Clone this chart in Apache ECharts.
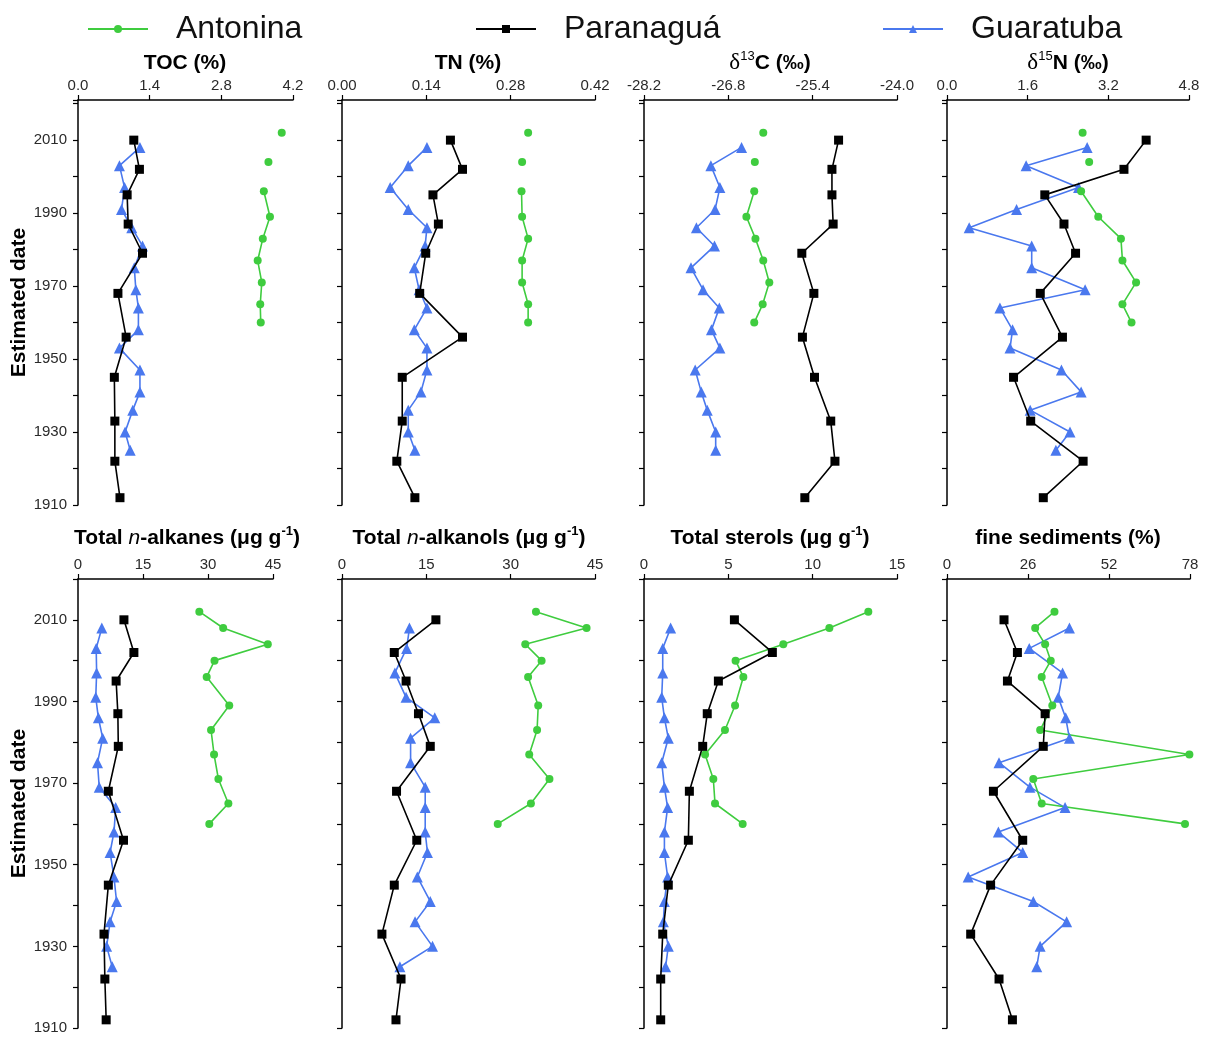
<!DOCTYPE html>
<html>
<head>
<meta charset="utf-8">
<script src="https://cdn.jsdelivr.net/npm/echarts@6/dist/echarts.min.js"></script>
<style>
  html, body { margin: 0; padding: 0; background: #fff; }
  #chart { width: 1211px; height: 1038px; }
</style>
</head>
<body>
<div id="chart"></div>
<script>
// Sampling dates (top of core first) for each estuary
const yearsAntonina  = [2012, 2008, 2004, 2000, 1996, 1989, 1983, 1977, 1971, 1965, 1960];
const yearsParanagua = [2010, 2002, 1995, 1987, 1979, 1968, 1956, 1945, 1933, 1922, 1912];
const yearsGuaratuba = [2008, 2003, 1997, 1991, 1986, 1981, 1975, 1969, 1964, 1958, 1953, 1947, 1941, 1936, 1930, 1925];

// TOC (%)
const tocAntonina  = [3.98, null, 3.72, null, 3.63, 3.75, 3.61, 3.51, 3.59, 3.56, 3.57];
const tocParanagua = [1.09, 1.20, 0.96, 0.98, 1.26, 0.78, 0.94, 0.71, 0.72, 0.72, 0.82];
const tocGuaratuba = [1.21, 0.81, 0.91, 0.85, 1.05, 1.26, 1.10, 1.13, 1.18, 1.18, 0.81, 1.21, 1.21, 1.07, 0.92, 1.02];

// TN (%)
const tnAntonina  = [0.309, null, 0.299, null, 0.298, 0.299, 0.309, 0.299, 0.299, 0.309, 0.309];
const tnParanagua = [0.180, 0.200, 0.151, 0.160, 0.139, 0.129, 0.200, 0.100, 0.100, 0.091, 0.121];
const tnGuaratuba = [0.141, 0.110, 0.080, 0.110, 0.141, 0.138, 0.120, 0.128, 0.141, 0.120, 0.141, 0.141, 0.131, 0.110, 0.110, 0.121];

// delta 13C (per mil)
const d13cAntonina  = [-26.22, null, -26.36, null, -26.37, -26.50, -26.35, -26.22, -26.12, -26.23, -26.37];
const d13cParanagua = [-24.97, -25.08, -25.08, -25.06, -25.58, -25.38, -25.57, -25.37, -25.10, -25.03, -25.53];
const d13cGuaratuba = [-26.58, -27.09, -26.94, -27.02, -27.33, -27.03, -27.42, -27.22, -26.95, -27.08, -26.94, -27.35, -27.25, -27.15, -27.01, -27.01];

// delta 15N (per mil)
const d15nAntonina  = [2.69, null, 2.82, null, 2.66, 3.00, 3.45, 3.48, 3.75, 3.48, 3.66];
const d15nParanagua = [3.95, 3.51, 1.94, 2.32, 2.55, 1.85, 2.29, 1.32, 1.66, 2.70, 1.91];
const d15nGuaratuba = [2.78, 1.57, 2.61, 1.38, 0.44, 1.68, 1.68, 2.74, 1.05, 1.30, 1.25, 2.27, 2.66, 1.65, 2.44, 2.16];

// Total n-alkanes (ug/g)
const alkAntonina  = [28.0, 33.5, 43.8, 31.5, 29.7, 34.9, 30.7, 31.4, 32.4, 34.7, 30.3];
const alkParanagua = [10.6, 12.9, 8.8, 9.2, 9.3, 7.0, 10.5, 7.0, 6.0, 6.2, 6.5];
const alkGuaratuba = [5.5, 4.2, 4.3, 4.1, 4.7, 5.7, 4.5, 4.9, 8.7, 8.3, 7.4, 8.3, 8.9, 7.4, 6.6, 7.9];

// Total n-alkanols (ug/g)
const olAntonina  = [34.5, 43.5, 32.6, 35.5, 33.1, 34.9, 34.7, 33.3, 36.9, 33.6, 27.7];
const olParanagua = [16.7, 9.3, 11.4, 13.6, 15.7, 9.7, 13.3, 9.3, 7.1, 10.5, 9.6];
const olGuaratuba = [12.0, 11.5, 9.4, 11.4, 16.5, 12.2, 12.2, 14.8, 14.8, 14.8, 15.2, 13.4, 15.7, 13.0, 16.1, 10.3];

// Total sterols (ug/g)
const sterAntonina  = [13.30, 10.99, 8.26, 5.43, 5.89, 5.40, 4.80, 3.62, 4.11, 4.21, 5.85];
const sterParanagua = [5.36, 7.61, 4.41, 3.75, 3.48, 2.69, 2.63, 1.44, 1.11, 0.99, 0.99];
const sterGuaratuba = [1.58, 1.11, 1.11, 1.05, 1.21, 1.44, 1.05, 1.21, 1.40, 1.21, 1.21, 1.40, 1.21, 1.15, 1.44, 1.28];

// Fine sediments (%)
const fineAntonina  = [34.5, 28.3, 31.5, 33.3, 30.4, 33.8, 29.9, 77.8, 27.7, 30.4, 76.4];
const fineParanagua = [18.3, 22.6, 19.4, 31.5, 30.9, 14.9, 24.3, 14.0, 7.6, 16.7, 21.0];
const fineGuaratuba = [39.3, 26.4, 37.1, 35.7, 38.1, 39.3, 16.7, 26.6, 37.9, 16.5, 24.3, 6.8, 27.7, 38.4, 29.9, 28.8];

// Axis ranges: [min, max, interval, decimals]
const xRanges = [
  [0, 4.2, 1.4, 1],
  [0, 0.42, 0.14, 2],
  [-28.2, -24.0, 1.4, 1],
  [0, 4.8, 1.6, 1],
  [0, 45, 15, 0],
  [0, 45, 15, 0],
  [0, 15, 5, 0],
  [0, 78, 26, 0]
];

const panelData = [
  [tocAntonina, tocParanagua, tocGuaratuba],
  [tnAntonina, tnParanagua, tnGuaratuba],
  [d13cAntonina, d13cParanagua, d13cGuaratuba],
  [d15nAntonina, d15nParanagua, d15nGuaratuba],
  [alkAntonina, alkParanagua, alkGuaratuba],
  [olAntonina, olParanagua, olGuaratuba],
  [sterAntonina, sterParanagua, sterGuaratuba],
  [fineAntonina, fineParanagua, fineGuaratuba]
];

const sites = ['Antonina', 'Paranaguá', 'Guaratuba'];
const siteYears = [yearsAntonina, yearsParanagua, yearsGuaratuba];
const siteColors = ['#3fcc3f', '#000000', '#4a78ee'];
const siteSymbols = ['circle', 'rect', 'triangle'];
const siteSymbolSizes = [8, 9, 11];

// Plot rectangles
const grids = [
  { left: 78,  top: 100, width: 215, height: 405 },
  { left: 342, top: 100, width: 253, height: 405 },
  { left: 644, top: 100, width: 253, height: 405 },
  { left: 947, top: 100, width: 242, height: 405 },
  { left: 78,  top: 579, width: 195, height: 449 },
  { left: 342, top: 579, width: 253, height: 449 },
  { left: 644, top: 579, width: 253, height: 449 },
  { left: 947, top: 579, width: 243, height: 449 }
];

const sans = 'Liberation Sans, Arial, sans-serif';
const axisFont = { fontFamily: sans, fontSize: 15, color: '#2a2a2a' };
const lineAxis = { show: true, lineStyle: { color: '#000', width: 1.5 } };

const xAxes = grids.map((g, i) => ({
  type: 'value',
  gridIndex: i,
  position: 'top',
  min: xRanges[i][0],
  max: xRanges[i][1],
  interval: xRanges[i][2],
  axisLine: lineAxis,
  axisTick: { show: true, length: 5, lineStyle: { color: '#000', width: 1.2 } },
  splitLine: { show: false },
  axisLabel: Object.assign({
    margin: 7,
    showMinLabel: true,
    showMaxLabel: true,
    formatter: v => Number(v).toFixed(xRanges[i][3])
  }, axisFont)
}));

const yAxes = grids.map((g, i) => ({
  type: 'value',
  gridIndex: i,
  min: 1910,
  max: i < 4 ? 2021 : 2020,
  interval: 10,
  axisLine: lineAxis,
  axisTick: { show: true, length: 5, lineStyle: { color: '#000', width: 1.2 } },
  splitLine: { show: false },
  axisLabel: Object.assign({
    show: i === 0 || i === 4,
    margin: 11,
    formatter: v => ((v - 1910) % 20 === 0 ? String(v) : '')
  }, axisFont),
  name: (i === 0 || i === 4) ? 'Estimated date' : '',
  nameLocation: 'middle',
  nameRotate: 90,
  nameGap: 43,
  nameTextStyle: { fontFamily: sans, fontSize: 21, fontWeight: 'bold', color: '#000' }
}));

const series = [];
panelData.forEach((sets, p) => {
  // Guaratuba first, then Antonina, with Paranaguá drawn on top
  [2, 0, 1].forEach(s => {
    series.push({
      type: 'line',
      name: sites[s],
      xAxisIndex: p,
      yAxisIndex: p,
      data: siteYears[s].map((yr, k) => [sets[s][k] == null ? '-' : sets[s][k], yr]),
      symbol: siteSymbols[s],
      symbolSize: siteSymbolSizes[s],
      showAllSymbol: true,
      connectNulls: false,
      itemStyle: { color: siteColors[s] },
      lineStyle: { color: siteColors[s], width: 1.6 },
      animation: false,
      z: s === 1 ? 4 : 3
    });
  });
});

const legendBase = {
  top: 8,
  itemWidth: 60,
  itemHeight: 10,
  textStyle: { fontFamily: sans, fontSize: 32, color: '#111', padding: [0, 0, 0, 23] }
};
const legends = [
  Object.assign({}, legendBase, { left: 82, data: ['Antonina'] }),
  Object.assign({}, legendBase, { left: 470, data: ['Paranaguá'] }),
  Object.assign({}, legendBase, { left: 877, data: ['Guaratuba'] })
];

// Panel headings
const titleSize = 21;
const bold = { fontFamily: sans, fontWeight: 'bold', fontSize: titleSize, fill: '#000' };
const rich = {
  b:   { fontFamily: sans, fontWeight: 'bold', fontSize: titleSize, color: '#000' },
  i:   { fontFamily: sans, fontStyle: 'italic', fontSize: titleSize, color: '#000' },
  d:   { fontFamily: 'Liberation Serif, Times New Roman, serif', fontSize: 23, color: '#000' },
  sup: { fontFamily: sans, fontSize: 13, color: '#000', verticalAlign: 'top', lineHeight: 26 },
  supb:{ fontFamily: sans, fontWeight: 'bold', fontSize: 13, color: '#000', verticalAlign: 'top', lineHeight: 26 }
};
const headings = [
  ['{b|TOC (%)}', 185, 63],
  ['{b|TN (%)}', 468, 63],
  ['{d|δ}{sup|13}{b|C (‰)}', 770, 63],
  ['{d|δ}{sup|15}{b|N (‰)}', 1068, 63],
  ['{b|Total }{i|n}{b|-alkanes (μg g}{supb|-1}{b|)}', 187, 538],
  ['{b|Total }{i|n}{b|-alkanols (μg g}{supb|-1}{b|)}', 469, 538],
  ['{b|Total sterols (μg g}{supb|-1}{b|)}', 770, 538],
  ['{b|fine sediments (%)}', 1068, 538]
];
const graphic = headings.map(h => ({
  type: 'text',
  x: h[1],
  y: h[2],
  style: Object.assign({ text: h[0], rich: rich, align: 'center', verticalAlign: 'middle' }, bold)
}));

const chart = echarts.init(document.getElementById('chart'), null, { renderer: 'canvas' });
chart.setOption({
  animation: false,
  backgroundColor: '#fff',
  legend: legends,
  grid: grids.map(g => Object.assign({ containLabel: false }, g)),
  xAxis: xAxes,
  yAxis: yAxes,
  series: series,
  graphic: graphic
});
</script>
</body>
</html>
